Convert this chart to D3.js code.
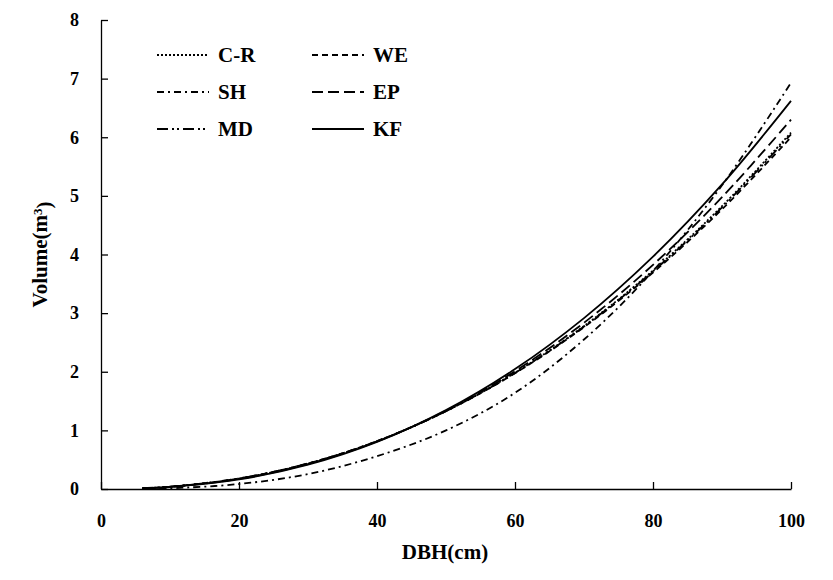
<!DOCTYPE html>
<html><head><meta charset="utf-8">
<script src="https://cdn.jsdelivr.net/npm/d3@7"></script>
<style>body{margin:0;background:#fff}svg{display:block}text{font-family:"Liberation Serif","Times New Roman",serif;font-weight:bold;fill:#000}</style>
</head><body>
<svg id="c" width="833" height="580"></svg>
<script>
const dbh = [6, 10, 20, 30, 40, 50, 60, 70, 80, 90, 100];
const seriesNames = ["C-R", "WE", "SH", "EP", "MD", "KF"];
const volCR = [0.0127, 0.039, 0.178, 0.434, 0.815, 1.329, 1.983, 2.78, 3.726, 4.824, 6.08];
const volWE = [0.0131, 0.0399, 0.18, 0.436, 0.816, 1.327, 1.974, 2.76, 3.692, 4.771, 6.0];
const volSH = [0.0032, 0.0129, 0.085, 0.255, 0.56, 1.0, 1.64, 2.55, 3.72, 5.18, 6.93];
const volEP = [0.0116, 0.0364, 0.172, 0.426, 0.811, 1.336, 2.009, 2.836, 3.824, 4.977, 6.3];
const volMD = [0.0129, 0.0394, 0.179, 0.435, 0.815, 1.328, 1.979, 2.772, 3.713, 4.803, 6.05];
const volKF = [0.0103, 0.0332, 0.163, 0.415, 0.804, 1.345, 2.045, 2.915, 3.963, 5.195, 6.62];
const xTicks = [0, 20, 40, 60, 80, 100];
const yTicks = [0, 1, 2, 3, 4, 5, 6, 7, 8];

const values = [volCR, volWE, volSH, volEP, volMD, volKF];
const dashes = {"C-R":"2,2", "WE":"6,4", "SH":"7,4,2,4", "EP":"11,5", "MD":"11,4,2,3,2,4", "KF":null};

const svg = d3.select("#c");
const L = 101, R = 791, T = 20, B = 489;
const x = d3.scaleLinear().domain([0, 100]).range([L, R]);
const y = d3.scaleLinear().domain([0, 8]).range([B, T]);

const xAxis = svg.append("g").attr("transform", `translate(0,${B})`)
  .call(d3.axisBottom(x).tickValues(xTicks).tickSizeInner(-7).tickSizeOuter(0).tickPadding(25));
const yAxis = svg.append("g").attr("transform", `translate(${L},0)`)
  .call(d3.axisLeft(y).tickValues(yTicks).tickSizeInner(-7).tickSizeOuter(0).tickPadding(22));
[xAxis, yAxis].forEach(a => {
  a.selectAll("path,line").attr("stroke", "#000").attr("stroke-width", 1.3);
  a.selectAll("text").style("font-size", "18px").attr("font-family", null);
});

const line = d3.line().x(d => x(d[0])).y(d => y(d[1])).curve(d3.curveCatmullRom);
const order = [2, 4, 0, 1, 3, 5];
order.forEach(i => {
  const name = seriesNames[i];
  svg.append("path")
    .datum(dbh.map((d, j) => [d, values[i][j]]))
    .attr("fill", "none").attr("stroke", "#000").attr("stroke-width", 1.8)
    .attr("stroke-dasharray", dashes[name])
    .attr("d", line);
});

// legend
const legPos = {"C-R":[157,55], "SH":[157,92], "MD":[157,129], "WE":[312,55], "EP":[312,92], "KF":[312,129]};
seriesNames.forEach(name => {
  const [lx, ly] = legPos[name];
  svg.append("line").attr("x1", lx).attr("x2", lx + 52).attr("y1", ly).attr("y2", ly)
    .attr("stroke", "#000").attr("stroke-width", 2).attr("stroke-dasharray", dashes[name]);
  svg.append("text").attr("x", lx + 61).attr("y", ly).attr("dy", "0.35em")
    .style("font-size", "21px").text(name);
});

// axis titles
svg.append("text").attr("x", (L + R) / 2 - 1).attr("y", 552).attr("dy", "0.35em")
  .attr("text-anchor", "middle").style("font-size", "21px").text("DBH(cm)");
const yt = svg.append("text").attr("transform", `translate(40,${(T + B) / 2}) rotate(-90)`)
  .attr("text-anchor", "middle").attr("dy", "0.35em").style("font-size", "21px");
yt.append("tspan").text("Volume(m");
yt.append("tspan").attr("dy", "-0.45em").style("font-size", "13px").text("3");
yt.append("tspan").attr("dy", "0.45em").text(")");
</script>
</body></html>
